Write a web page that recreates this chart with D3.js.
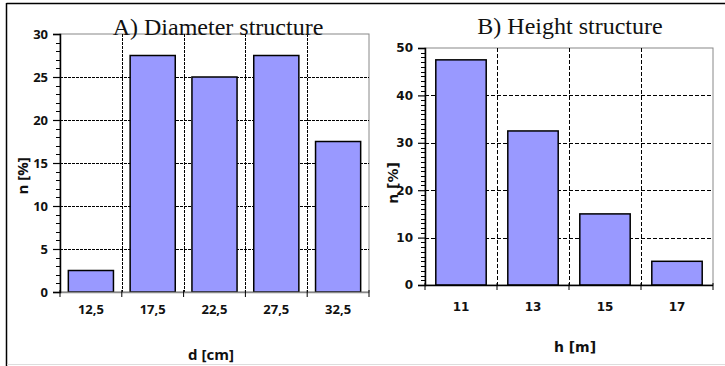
<!DOCTYPE html>
<html><head><meta charset="utf-8">
<script src="https://cdn.jsdelivr.net/npm/d3@7"></script>
<style>body{margin:0;background:#fff}svg{display:block}</style>
</head><body>
<svg id="c" width="725" height="366"></svg>
<script>
const diamCats = ["12,5","17,5","22,5","27,5","32,5"];
const diamVals = [2.5,27.5,25,27.5,17.5];
const diamTicks = [0,5,10,15,20,25,30];
const heightCats = ["11","13","15","17"];
const heightVals = [47.5,32.5,15,5];
const heightTicks = [0,10,20,30,40,50];

const svg = d3.select("#c");
// outer frame
svg.append("line").attr("x1",6.5).attr("x2",725).attr("y1",3.5).attr("y2",3.5).attr("stroke","#000").attr("stroke-width",1.5);
svg.append("line").attr("x1",6.5).attr("x2",6.5).attr("y1",3).attr("y2",366).attr("stroke","#000").attr("stroke-width",1.5);
svg.append("line").attr("x1",7).attr("x2",725).attr("y1",364.5).attr("y2",364.5).attr("stroke","#ddd").attr("stroke-width",1);

function panel(o){
  const g = svg.append("g");
  const x = d3.scaleBand().domain(o.cats).range([o.x0,o.x1]).paddingInner(o.pad).paddingOuter(o.pad/2);
  const y = d3.scaleLinear().domain([0,o.max]).range([o.y1,o.y0]);
  const bw = (o.x1-o.x0)/o.cats.length;
  // plot border (gray)
  g.append("rect").attr("x",o.x0).attr("y",o.y0).attr("width",o.x1-o.x0).attr("height",o.y1-o.y0)
    .attr("fill","none").attr("stroke","#888").attr("stroke-width",1);
  // horizontal grid
  g.selectAll(".hg").data(o.ticks.filter(t=>t>0&&t<o.max)).join("line")
    .attr("x1",o.x0).attr("x2",o.x1).attr("y1",d=>Math.round(y(d))+0.5).attr("y2",d=>Math.round(y(d))+0.5)
    .attr("stroke","#000").attr("stroke-width",1).attr("stroke-dasharray",o.dash);
  // vertical grid at band boundaries
  const bounds = d3.range(1,o.cats.length).map(i=>o.x0+i*bw);
  g.selectAll(".vg").data(bounds).join("line")
    .attr("x1",d=>Math.round(d)+0.5).attr("x2",d=>Math.round(d)+0.5).attr("y1",o.y0).attr("y2",o.y1)
    .attr("stroke","#000").attr("stroke-width",1).attr("stroke-dasharray",o.dash);
  // bars
  g.selectAll(".bar").data(o.vals).join("rect")
    .attr("x",(d,i)=>x(o.cats[i])).attr("width",x.bandwidth())
    .attr("y",d=>y(d)).attr("height",d=>y(0)-y(d))
    .attr("fill","#9999ff").attr("stroke","#000").attr("stroke-width",1.5);
  // x axis line and ticks
  g.append("line").attr("x1",o.x0).attr("x2",o.x1).attr("y1",o.y1+0.5).attr("y2",o.y1+0.5).attr("stroke",o.xAxisColor).attr("stroke-width",1.5);
  const xt = d3.range(0,o.cats.length+1).map(i=>o.x0+i*bw);
  g.selectAll(".xt").data(xt).join("line")
    .attr("x1",d=>d).attr("x2",d=>d).attr("y1",o.y1-2).attr("y2",o.y1+5).attr("stroke","#000").attr("stroke-width",1);
  // y axis
  const ya = d3.axisLeft(y).tickValues(o.ticks).tickSize(7).tickPadding(5).tickFormat(d3.format("d"));
  const ag = g.append("g").attr("transform",`translate(${o.x0},0)`).call(ya);
  ag.select(".domain").attr("stroke","#000").attr("stroke-width",1.5);
  ag.selectAll(".tick line").attr("stroke","#000").attr("stroke-width",1.2);
  ag.selectAll(".tick text").attr("font-family",o.font).attr("font-weight","bold").attr("font-size",o.fs).attr("fill","#111");
  // minor ticks
  g.selectAll(".mt").data(d3.range(0,o.max+1,1).filter(v=>v%(o.ticks[1])!==0)).join("line")
    .attr("x1",o.x0-4).attr("x2",o.x0+1).attr("y1",d=>Math.round(y(d))+0.5).attr("y2",d=>Math.round(y(d))+0.5)
    .attr("stroke","#000").attr("stroke-width",1);
  // x tick labels
  g.selectAll(".xl").data(o.cats).join("text")
    .attr("x",d=>x(d)+x.bandwidth()/2).attr("y",o.xlY).attr("text-anchor","middle")
    .attr("font-family",o.font).attr("font-weight","bold").attr("font-size",o.fs).attr("fill","#111").text(d=>d);
  // axis titles
  g.append("text").attr("x",o.xtX).attr("y",o.xtY).attr("text-anchor","middle")
    .attr("font-family",o.font).attr("font-weight","bold").attr("font-size",o.tfs).attr("fill","#111").text(o.xTitle);
  g.append("text").attr("transform",`translate(${o.ytX},${o.ytY}) rotate(-90)`).attr("text-anchor","middle")
    .attr("font-family",o.font).attr("font-weight","bold").attr("font-size",o.tfs).attr("fill","#111").text("n [%]");
  // chart title
  g.append("text").attr("x",o.tX).attr("y",o.tY).attr("text-anchor","middle")
    .attr("font-family","Liberation Serif, Times New Roman, serif").attr("font-size",24).attr("fill","#111").text(o.title);
}

panel({cats:diamCats, vals:diamVals, ticks:diamTicks, max:30, x0:60, x1:369, y0:34, y1:292, pad:0.27,
  dash:"3,1", xAxisColor:"#888", font:"Open Sans, sans-serif", fs:13, tfs:15, xlY:314,
  xTitle:"d [cm]", xtX:211, xtY:360, ytX:28, ytY:176, title:"A) Diameter structure", tX:218, tY:35});
panel({cats:heightCats, vals:heightVals, ticks:heightTicks, max:50, x0:425, x1:713, y0:48, y1:285, pad:0.3,
  dash:"4,2", xAxisColor:"#000", font:"DejaVu Sans, sans-serif", fs:12, tfs:14, xlY:311,
  xTitle:"h [m]", xtX:575, xtY:352, ytX:398, ytY:183, title:"B) Height structure", tX:570, tY:34});
</script>
</body></html>
